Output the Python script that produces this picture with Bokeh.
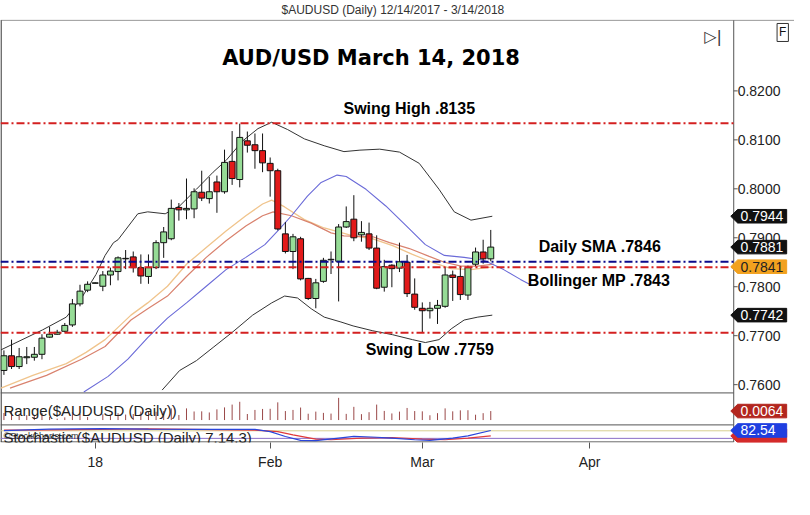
from bokeh.plotting import figure
from bokeh.models import (Range1d, FixedTicker, Label, ColumnDataSource)
from bokeh.core.properties import value
from bokeh.embed import file_html
from bokeh.resources import INLINE

# ---------------- data ----------------
bar_index = list(range(65))          # trading days 12/14/2017 .. 3/14/2018
opens = [0.7629, 0.7659, 0.7637, 0.7655, 0.7656, 0.7662, 0.7697, 0.7703, 0.7709, 0.7722,
         0.7765, 0.7793, 0.7807, 0.7801, 0.7824, 0.7831, 0.7857, 0.7861, 0.7839, 0.7821,
         0.7839, 0.7890, 0.7898, 0.7962, 0.7957, 0.7959, 0.7993, 0.7980, 0.8014, 0.7994,
         0.8056, 0.8019, 0.8098, 0.8090, 0.8078, 0.8052, 0.8037, 0.7908, 0.7872, 0.7898,
         0.7817, 0.7776, 0.7811, 0.7855, 0.7852, 0.7922, 0.7938, 0.7906, 0.7908, 0.7879,
         0.7799, 0.7844, 0.7838, 0.7850, 0.7785, 0.7756, 0.7751, 0.7756, 0.7760, 0.7824,
         0.7821, 0.7783, 0.7846, 0.7871, 0.7857]
highs = [0.7670, 0.7692, 0.7675, 0.7677, 0.7677, 0.7703, 0.7718, 0.7712, 0.7726, 0.7775,
         0.7804, 0.7811, 0.7809, 0.7832, 0.7839, 0.7862, 0.7875, 0.7872, 0.7866, 0.7866,
         0.7895, 0.7922, 0.7978, 0.7971, 0.8021, 0.8001, 0.8037, 0.8024, 0.8027, 0.8080,
         0.8118, 0.8133, 0.8117, 0.8113, 0.8113, 0.8064, 0.8041, 0.7932, 0.7908, 0.7902,
         0.7818, 0.7816, 0.7859, 0.7872, 0.7928, 0.7964, 0.7987, 0.7934, 0.7931, 0.7905,
         0.7855, 0.7846, 0.7890, 0.7865, 0.7817, 0.7768, 0.7769, 0.7773, 0.7840, 0.7833,
         0.7842, 0.7843, 0.7880, 0.7896, 0.7916]
lows = [0.7620, 0.7632, 0.7632, 0.7642, 0.7649, 0.7652, 0.7696, 0.7702, 0.7707, 0.7718,
        0.7760, 0.7789, 0.7807, 0.7791, 0.7803, 0.7813, 0.7836, 0.7829, 0.7806, 0.7806,
        0.7836, 0.7859, 0.7895, 0.7935, 0.7938, 0.7940, 0.7975, 0.7970, 0.7951, 0.7990,
        0.8008, 0.8003, 0.8074, 0.8041, 0.8034, 0.7984, 0.7915, 0.7868, 0.7836, 0.7813,
        0.7773, 0.7756, 0.7808, 0.7826, 0.7770, 0.7920, 0.7893, 0.7892, 0.7875, 0.7795,
        0.7790, 0.7799, 0.7830, 0.7779, 0.7753, 0.7706, 0.7735, 0.7724, 0.7757, 0.7771,
        0.7773, 0.7773, 0.7842, 0.7847, 0.7852]
closes = [0.7659, 0.7637, 0.7657, 0.7657, 0.7662, 0.7695, 0.7703, 0.7707, 0.7721, 0.7765,
          0.7791, 0.7805, 0.7808, 0.7824, 0.7832, 0.7859, 0.7858, 0.7839, 0.7822, 0.7839,
          0.7890, 0.7912, 0.7960, 0.7957, 0.7960, 0.7994, 0.7981, 0.7994, 0.7994, 0.8054,
          0.8021, 0.8105, 0.8089, 0.8078, 0.8053, 0.8037, 0.7918, 0.7872, 0.7902, 0.7816,
          0.7776, 0.7808, 0.7854, 0.7856, 0.7922, 0.7933, 0.7900, 0.7911, 0.7879, 0.7797,
          0.7841, 0.7837, 0.7851, 0.7786, 0.7758, 0.7751, 0.7756, 0.7762, 0.7824, 0.7819,
          0.7784, 0.7839, 0.7871, 0.7857, 0.7881]

x_tick_pos = [12, 35, 55, 77]
x_tick_labels = ["18", "Feb", "Mar", "Apr"]
price_ticks = [0.76, 0.77, 0.78, 0.79, 0.80, 0.81, 0.82]
price_tick_labels = ["0.7600", "0.7700", "0.7800", "0.7900", "0.8000", "0.8100", "0.8200"]

bb_upper_x = [-0.4, 5.1, 8.2, 10.2, 12.1, 13.3, 14.4, 15.0, 17.6, 18.9, 21.2, 23.1, 25.3, 27.5, 29.2,
              31.4, 33.4, 35.2, 37.3, 39.5, 42.1, 44.7, 46.8, 49.4, 52.0, 54.6, 57.2, 59.2, 61.4, 64.2]
bb_upper_y = [0.7671, 0.7712, 0.7738, 0.7777, 0.7825, 0.7864, 0.7890, 0.7896, 0.7949, 0.7953,
              0.7949, 0.7965, 0.7999, 0.8034, 0.8058, 0.8098, 0.8123, 0.8136, 0.8121, 0.8102,
              0.8088, 0.8076, 0.8079, 0.8081, 0.8075, 0.8052, 0.7999, 0.7953, 0.7936, 0.7944]
bb_lower_x = [20.8, 23.1, 25.3, 27.5, 30.1, 32.7, 35.2, 36.9, 38.6, 40.4, 42.1, 44.3, 45.9, 48.5,
              51.1, 53.7, 55.4, 57.2, 58.8, 60.5, 62.3, 64.2]
bb_lower_y = [0.7589, 0.7629, 0.7649, 0.7676, 0.7708, 0.7742, 0.7767, 0.7781, 0.7777, 0.7755,
              0.7738, 0.7728, 0.7720, 0.7710, 0.7702, 0.7692, 0.7686, 0.7692, 0.7714, 0.7732,
              0.7738, 0.7742]
mid_x = [10.5, 13.7, 16.3, 18.9, 21.5, 24.0, 26.6, 29.2, 31.8, 34.3, 36.0, 37.8, 39.9, 41.7, 43.8,
         45.0, 47.6, 50.2, 52.8, 55.4, 57.9, 60.5, 63.1, 65.7, 67.9, 69.1]
mid_y = [0.7585, 0.7617, 0.7652, 0.7696, 0.7736, 0.7767, 0.7801, 0.7835, 0.7860, 0.7886, 0.7914,
         0.7945, 0.7985, 0.8013, 0.8028, 0.8025, 0.7999, 0.7965, 0.7926, 0.7886, 0.7864, 0.7860,
         0.7854, 0.7835, 0.7815, 0.7805]
ema_x = [-0.4, 3.8, 8.2, 10.8, 13.3, 16.7, 18.9, 21.5, 24.0, 26.6, 29.2, 31.8, 34.0, 35.2, 36.9,
         39.5, 42.1, 45.9, 48.5, 51.1, 53.7, 56.3, 58.8, 61.4, 64.0]
ema_y = [0.7593, 0.7619, 0.7643, 0.7666, 0.7692, 0.7742, 0.7767, 0.7801, 0.7846, 0.7880, 0.7914,
         0.7945, 0.7969, 0.7977, 0.7963, 0.7937, 0.7920, 0.7904, 0.7898, 0.7884, 0.7866, 0.7850,
         0.7837, 0.7835, 0.7840]
sma_x = [0.8, 5.6, 10.2, 13.3, 16.7, 18.9, 21.5, 24.0, 26.6, 29.2, 31.8, 34.0, 35.4, 37.8, 40.4,
         43.0, 44.7, 48.5, 50.7, 53.3, 55.9, 57.9, 60.1, 62.3, 64.4]
sma_y = [0.7593, 0.7619, 0.7652, 0.7678, 0.7732, 0.7755, 0.7781, 0.7821, 0.7860, 0.7894, 0.7924,
         0.7945, 0.7953, 0.7945, 0.7930, 0.7910, 0.7904, 0.7902, 0.7890, 0.7878, 0.7862, 0.7850,
         0.7842, 0.7842, 0.7846]

swing_high = 0.8134
swing_low = 0.7706
daily_sma = 0.7851
bollinger_mp = 0.7840

stoch_k_x = [0, 6, 13, 19, 26, 33, 35, 37, 39, 41, 44, 46, 49, 51, 54, 56, 59, 61, 64]
stoch_k = [81, 94, 98, 94, 91, 91, 73, 35, 4, 2, 22, 35, 29, 22, 9, 4, 22, 40, 82.54]
stoch_d_x = [0, 6, 19, 33, 36, 38, 41, 43, 47, 51, 55, 58, 61, 64]
stoch_d = [86, 88, 96, 86, 73, 48, 14, 9, 22, 27, 14, 9, 22, 40]
stoch_levels = [80, 20]

price_tags = [0.7944, 0.7881, 0.7841, 0.7742]
price_tag_fill = ["#111111", "#111111", "#f2a11f", "#111111"]
price_tag_text = ["white", "white", "#222222", "white"]

# ---------------- layout ----------------
W, H = 794, 499
SX, SY = W / 810.0, H / 515.0
FR_BOTTOM = 442                       # frame spans the whole width and reaches the top
ref_bottom = FR_BOTTOM / SY

X0, XS = 3.5, 7.76                    # ref px of bar 0 / ref px per bar
Y82, PY = 93.3, 5053.0                # ref px of 0.8200 / ref px per price unit
R0, RY = 433.0, 1450.0                # range panel
S0, SU = 454.5, 0.13                  # stochastic panel
AX = 748                              # ref px of the price axis line
TOP_LINE = 20.5


def ix(x):
    return (x - X0) / XS


def py(y):
    return 0.82 - (y - Y82) / PY


def ry(y):
    return (R0 - y) / RY


def sy(y):
    return (S0 - y) / SU


FONT = "Liberation Sans"

p = figure(width=W, height=H, output_backend="svg", toolbar_location=None, tools="",
           x_range=Range1d(ix(0), ix(810)),
           y_range=Range1d(py(ref_bottom), py(0)),
           min_border_left=0, min_border_right=0,
           min_border_top=0, min_border_bottom=H - FR_BOTTOM,
           background_fill_color="white", border_fill_color="white",
           outline_line_color=None)
p.yaxis.visible = False
p.extra_y_ranges = {"rng": Range1d(ry(ref_bottom), ry(0)),
                    "stoch": Range1d(sy(ref_bottom), sy(0))}
p.grid.visible = False

xax = p.xaxis[0]
xax.ticker = FixedTicker(ticks=x_tick_pos)
xax.major_label_overrides = {t: l for t, l in zip(x_tick_pos, x_tick_labels)}
xax.axis_line_color = None
xax.major_tick_line_color = "#555555"
xax.major_tick_out = 6
xax.major_tick_in = 0
xax.minor_tick_line_color = None
xax.major_label_standoff = 5
xax.major_label_text_font = FONT
xax.major_label_text_font_size = "14px"
xax.major_label_text_color = "#222222"

# ---- panel frame lines ----
p.segment(x0=[ix(0), ix(0.6), ix(AX), ix(0), ix(0), ix(0)],
          y0=[py(TOP_LINE), py(TOP_LINE), py(TOP_LINE), py(405), py(438), py(455.6)],
          x1=[ix(810), ix(0.6), ix(AX), ix(AX), ix(AX), ix(AX)],
          y1=[py(TOP_LINE), py(455.6), py(455.6), py(405), py(438), py(455.6)],
          line_color=["#9a9a9a", "#555555", "#555555", "#555555", "#555555", "#444444"],
          line_width=[1, 1.5, 1, 1, 1, 1])

# ---- price axis (right) ----
p.segment(x0=[ix(AX)] * len(price_ticks), x1=[ix(AX + 4)] * len(price_ticks),
          y0=price_ticks, y1=price_ticks, line_color="#555555", line_width=1)
p.text(x=[ix(AX + 4)] * len(price_ticks), y=price_ticks, text=price_tick_labels,
       text_font=value(FONT), text_font_size="14px", text_color="#222222",
       text_align="left", text_baseline="middle")

# ---- indicator lines ----
p.line(ema_x, ema_y, line_color="#f0c48c", line_width=1.3)
p.line(sma_x, sma_y, line_color="#d9826e", line_width=1.2)
p.line(mid_x, mid_y, line_color="#6a6ad8", line_width=1.1)
p.line(bb_upper_x, bb_upper_y, line_color="#333333", line_width=1)
p.line(bb_lower_x, bb_lower_y, line_color="#333333", line_width=1)

# ---- candles ----
src = ColumnDataSource(dict(
    x=bar_index, high=highs, low=lows,
    top=[max(o, c) for o, c in zip(opens, closes)],
    bottom=[min(o, c) for o, c in zip(opens, closes)],
    color=["#96dc96" if c >= o else "#e21a1a" for o, c in zip(opens, closes)],
))
p.segment(x0="x", y0="low", x1="x", y1="high", source=src, line_color="#111111", line_width=1)
p.vbar(x="x", width=0.78, top="top", bottom="bottom", source=src,
       fill_color="color", line_color="#111111", line_width=1)

# ---- range panel ----
bar_range = [h - l for h, l in zip(highs, lows)]
p.segment(x0=bar_index, y0=[0] * len(bar_index), x1=bar_index, y1=bar_range,
          y_range_name="rng", line_color="#9a4848", line_width=1)

# ---- stochastic panel ----
p.segment(x0=[ix(0)] * 2, x1=[ix(AX)] * 2, y0=stoch_levels, y1=stoch_levels,
          y_range_name="stoch", line_color=["#d8cf90", "#8a6fc8"], line_width=1)
p.line(stoch_d_x, stoch_d, y_range_name="stoch", line_color="#e03a3a", line_width=1.2)
p.line(stoch_k_x, stoch_k, y_range_name="stoch", line_color="#2a46dc", line_width=1.2)

# ---- horizontal reference lines ----
ref_levels = [swing_high, swing_low, daily_sma, bollinger_mp]
p.segment(x0=[ix(0)] * 4, x1=[ix(AX)] * 4, y0=ref_levels, y1=ref_levels,
          line_color=["#d42020", "#d42020", "#0a0a8c", "#d42020"],
          line_dash="8 3 2 3", line_width=2)


def label(x, y, text, size, bold=False, align="left", color="#111111", font=FONT, **kw):
    p.add_layout(Label(x=x, y=y, text=text, text_font=font, text_font_size=size,
                       text_font_style="bold" if bold else "normal", text_align=align,
                       text_baseline="middle", text_color=color, **kw))


label(ix(402), py(10), "$AUDUSD (Daily)  12/14/2017 - 3/14/2018", "12px", align="center",
      color="#333333")
label(ix(378), py(59), "AUD/USD March 14, 2018", "21px", bold=True, align="center",
      color="#000000", font="DejaVu Sans")
label(ix(417), py(111), "Swing High .8135", "16px", bold=True, align="center", color="#000000")
label(ix(549), py(254), "Daily SMA .7846", "16px", bold=True, color="#000000")
label(ix(538), py(289), "Bollinger MP .7843", "16px", bold=True, color="#000000")
label(ix(438), py(360), "Swing Low .7759", "16px", bold=True, align="center", color="#000000")
label(ix(3), py(423), "Range($AUDUSD (Daily))", "15px", color="#222222")
label(ix(3), py(449), "©StockCharts.com", "9px", color="#333333")
label(ix(3), py(451), "Stochastic ($AUDUSD (Daily) 7,14,3)", "15px", color="#222222")
label(ix(727), py(37), "▷|", "16px", align="center", color="#333333", font="DejaVu Sans")
label(ix(798), py(33), "F", "12px", align="center", color="#111111",
      border_line_color="#333333", background_fill_color="white", padding=2)


# ---- value tags on the right axis ----
def tags(vals, fills, tcols, texts, conv, rname="default"):
    half = abs(conv(0) - conv(7))
    xs = [[ix(745), ix(752), ix(802), ix(802), ix(752)] for _ in vals]
    ys = [[v, v + half, v + half, v - half, v - half] for v in vals]
    p.patches(xs=xs, ys=ys, fill_color=fills, line_color=fills, line_width=1,
              y_range_name=rname)
    p.text(x=[ix(755)] * len(vals), y=vals, text=texts, text_color=tcols,
           text_font=value(FONT), text_font_size="14px", text_align="left",
           text_baseline="middle", y_range_name=rname)


tags(price_tags, price_tag_fill, price_tag_text, ["%.4f" % v for v in price_tags], py)
tags([bar_range[-1]], ["#b3261e"], ["white"], ["%.4f" % bar_range[-1]], ry, "rng")
tags([stoch_d[-1]], ["#d42a2a"], ["white"], [""], sy, "stoch")
tags([stoch_k[-1]], ["#1f3fe0"], ["white"], ["%.2f" % stoch_k[-1]], sy, "stoch")

open("out.html", "w").write(file_html(p, INLINE))
